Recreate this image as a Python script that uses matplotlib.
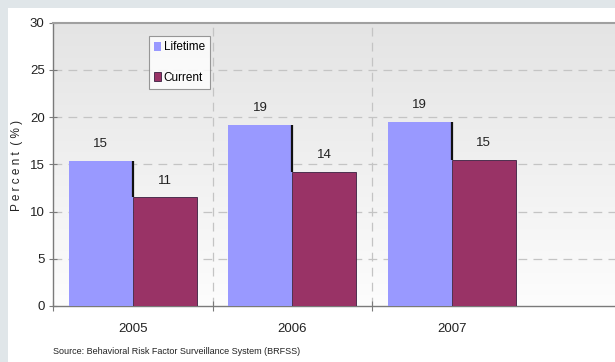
import numpy as np
import matplotlib
matplotlib.use("Agg")
import matplotlib.pyplot as plt
from matplotlib.patches import Rectangle
from matplotlib.ticker import FixedLocator

years = ["2005", "2006", "2007"]
lifetime = [15.4, 19.2, 19.5]
current = [11.5, 14.2, 15.5]
series_names = ["Lifetime", "Current"]
y_ticks = [0, 5, 10, 15, 20, 25, 30]
source_note = "Source: Behavioral Risk Factor Surveillance System (BRFSS)"

LIFE_COLOR = "#9999ff"
CUR_COLOR = "#993366"
FONT = ["Liberation Sans Narrow", "Liberation Sans", "DejaVu Sans"]

W, H = 615, 362
fig = plt.figure(figsize=(W / 100, H / 100), dpi=100)
fig.patch.set_facecolor("#e0e6e9")

# white slide panel behind the chart
panel = Rectangle((8 / W, 0), 1, 1 - 8 / H, transform=fig.transFigure,
                  facecolor="white", edgecolor="none", zorder=-5)
fig.add_artist(panel)

left_px, right_px = 53, 640
bottom_px, top_px = 306, 22.7
ax = fig.add_axes([left_px / W, 1 - bottom_px / H,
                   (right_px - left_px) / W, (bottom_px - top_px) / H])
ax.set_zorder(1)
cat_w = 159.5
x_max = -0.5 + (right_px - left_px) / cat_w
ax.set_xlim(-0.5, x_max)
ax.set_ylim(0, 30)

# plot area gradient: grey at the top fading to white
grad = np.linspace(0, 1, 256).reshape(-1, 1)
ax.imshow(grad, extent=(-0.5, x_max, 0, 30), aspect="auto", origin="lower",
          cmap=matplotlib.colors.LinearSegmentedColormap.from_list(
              "bg", ["#fdfdfd", "#f0f0f0", "#e4e4e4"]), zorder=0)

x = np.arange(len(years))
bw = 0.4
ax.bar(x - bw / 2, lifetime, width=bw, color=LIFE_COLOR, edgecolor="none",
       zorder=3, label=series_names[0])
ax.bar(x + bw / 2, current, width=bw, color=CUR_COLOR, edgecolor="#3a2040",
       linewidth=0.6, zorder=3, label=series_names[1])
# dark step edge between the paired bars
ax.vlines(x, current, lifetime, color="#111111", linewidth=1.6, zorder=4)

for xi, v in zip(x - bw / 2, lifetime):
    ax.annotate(f"{int(v)}", (xi, v), xytext=(0, 7.5), textcoords="offset points",
                ha="center", va="bottom", fontsize=9.5, family=FONT, color="#222222")
for xi, v in zip(x + bw / 2, current):
    ax.annotate(f"{int(v)}", (xi, v), xytext=(0, 7.5), textcoords="offset points",
                ha="center", va="bottom", fontsize=9.5, family=FONT, color="#222222")

# grid
for yv in y_ticks[1:-1]:
    ax.axhline(yv, color="#c4c4c4", linewidth=0.9, linestyle=(0, (7, 5)), zorder=1)
for xv in [0.5, 1.5]:
    ax.axvline(xv, color="#c4c4c4", linewidth=0.9, linestyle=(0, (7, 5)), zorder=1)

# axes styling
ax.spines["right"].set_visible(False)
ax.spines["top"].set_color("#a0a0a0")
ax.spines["top"].set_linewidth(1.5)
ax.spines["left"].set_color("#7a7a7a")
ax.spines["bottom"].set_color("#7a7a7a")
ax.spines["left"].set_linewidth(1.0)
ax.spines["bottom"].set_linewidth(1.0)

ax.set_yticks(y_ticks)
ax.set_yticklabels([str(t) for t in y_ticks], family=FONT, fontsize=9.5, color="#222222")
ax.tick_params(axis="y", direction="inout", length=6, width=0.8, color="#7a7a7a", pad=3)
ax.set_xticks(x)
ax.set_xticklabels(years, family=FONT, fontsize=9.5, color="#222222")
ax.tick_params(axis="x", which="major", length=0, pad=12)
ax.xaxis.set_minor_locator(FixedLocator([-0.5, 0.5, 1.5]))
ax.tick_params(axis="x", which="minor", direction="inout", length=7, width=0.8, color="#7a7a7a")

fig.text(17 / W, 1 - 165 / H, "P e r c e n t  ( % )", rotation=90, ha="center",
         va="center", fontsize=8.5, family=FONT, color="#222222")

leg = ax.legend(loc="upper left", bbox_to_anchor=(149 / W, 1 - 36 / H),
                bbox_transform=fig.transFigure, prop={"family": FONT, "size": 8.5},
                handlelength=0.6, handleheight=0.8, handletextpad=0.2,
                labelspacing=1.55, borderpad=0.45, fancybox=False, frameon=True,
                borderaxespad=0)
leg.get_frame().set_edgecolor("#808080")
leg.get_frame().set_linewidth(0.8)
leg.get_frame().set_facecolor("white")
leg.set_zorder(6)

fig.text(53 / W, 1 - 352 / H, source_note, ha="left", va="center",
         fontsize=6.5, family=FONT, color="#222222")

fig.savefig("out.png", dpi=100, facecolor=fig.get_facecolor())
